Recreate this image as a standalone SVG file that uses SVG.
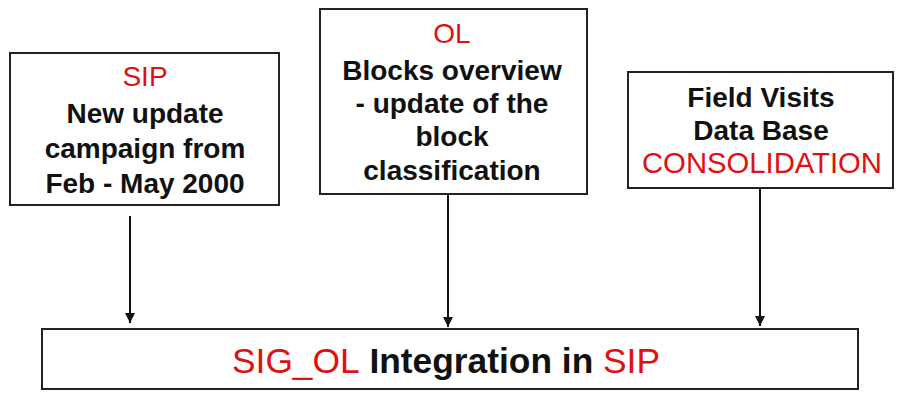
<svg xmlns="http://www.w3.org/2000/svg" width="897" height="396" viewBox="0 0 897 396">
  <defs>
    <marker id="arrow" viewBox="0 0 10 12" refX="10" refY="6" markerWidth="10" markerHeight="12" markerUnits="userSpaceOnUse" orient="auto">
      <path d="M0,1 L10,6 L0,11 z" fill="#111"/>
    </marker>
    <style>
      .box { fill: #fff; stroke: #222; stroke-width: 2; }
      .t { font-family: "Liberation Sans", Arial, sans-serif; font-size: 28px; font-weight: bold; fill: #111; text-anchor: middle; }
      .red { fill: #e01010; font-weight: normal; }
      .link { stroke: #111; stroke-width: 2; fill: none; marker-end: url(#arrow); }
    </style>
  </defs>

  <rect width="897" height="396" fill="#fff"/>

  <!-- connectors -->
  <g id="connectors">
    <line class="link" x1="130" y1="216" x2="130" y2="323"/>
    <line class="link" x1="448" y1="194" x2="448" y2="327"/>
    <line class="link" x1="760" y1="188" x2="760" y2="326"/>
  </g>

  <g id="sip-campaign">
    <rect class="box" x="10" y="53" width="269" height="152"/>
    <text class="t" x="145" y="86"><tspan class="red">SIP</tspan></text>
    <text class="t" x="145" y="123">New update</text>
    <text class="t" x="145" y="158">campaign from</text>
    <text class="t" x="145" y="193">Feb - May 2000</text>
  </g>

  <g id="ol-blocks">
    <rect class="box" x="320" y="9" width="267" height="185"/>
    <text class="t" x="452" y="43"><tspan class="red">OL</tspan></text>
    <text class="t" x="452" y="80">Blocks overview</text>
    <text class="t" x="452" y="113">- update of the</text>
    <text class="t" x="452" y="146">block</text>
    <text class="t" x="452" y="180">classification</text>
  </g>

  <g id="field-visits">
    <rect class="box" x="628" y="72" width="265" height="116"/>
    <text class="t" x="761" y="107">Field Visits</text>
    <text class="t" x="761" y="140">Data Base</text>
    <text class="t" x="762" y="173" style="font-size:29px" textLength="240" lengthAdjust="spacingAndGlyphs"><tspan class="red">CONSOLIDATION</tspan></text>
  </g>

  <g id="integration">
    <rect class="box" x="42" y="329" width="816" height="60"/>
    <text class="t" x="446" y="373" style="font-size:35px" textLength="428" lengthAdjust="spacingAndGlyphs"><tspan class="red">SIG_OL</tspan> Integration in <tspan class="red">SIP</tspan></text>
  </g>
</svg>
